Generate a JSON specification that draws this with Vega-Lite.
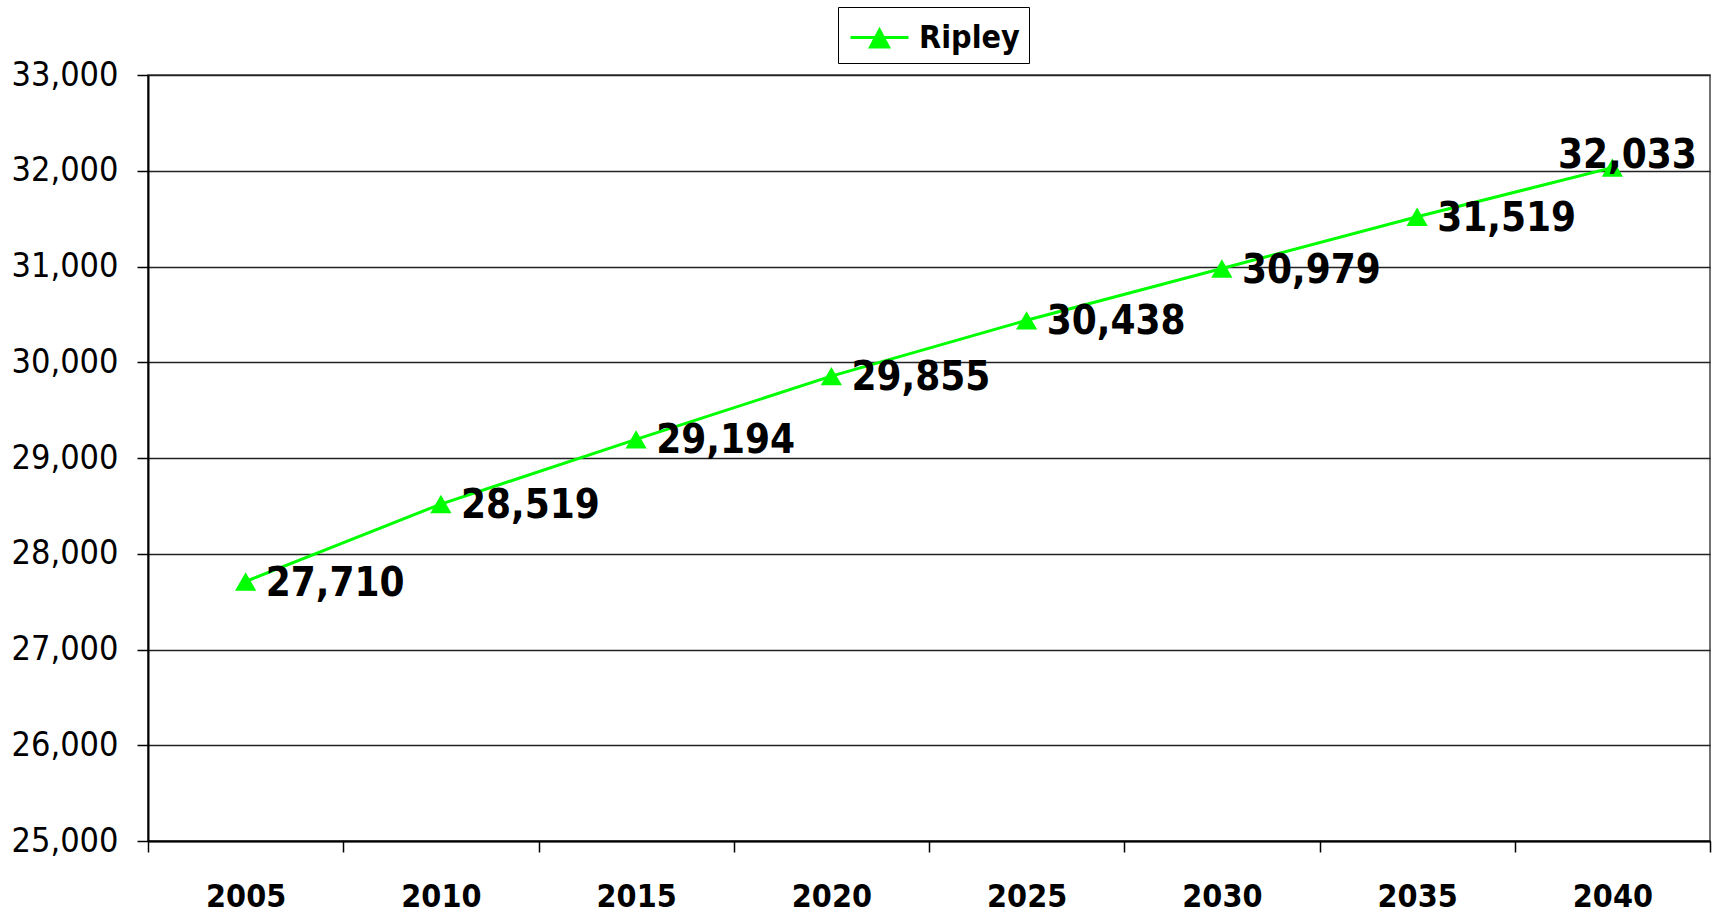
{
  "$schema": "https://vega.github.io/schema/vega-lite/v6.json",
  "width": 1562,
  "height": 766,
  "autosize": {"type": "none"},
  "padding": {"left": 148, "top": 75, "right": 7, "bottom": 73},
  "background": "white",
  "config": {
    "view": {"stroke": "#444", "strokeWidth": 1.5},
    "font": "DejaVu Sans Condensed, DejaVu Sans"
  },
  "data": {
    "values": [
      {"year": "2005", "population": 27710, "series": "Ripley"},
      {"year": "2010", "population": 28519, "series": "Ripley"},
      {"year": "2015", "population": 29194, "series": "Ripley"},
      {"year": "2020", "population": 29855, "series": "Ripley"},
      {"year": "2025", "population": 30438, "series": "Ripley"},
      {"year": "2030", "population": 30979, "series": "Ripley"},
      {"year": "2035", "population": 31519, "series": "Ripley"},
      {"year": "2040", "population": 32033, "series": "Ripley"}
    ]
  },
  "encoding": {
    "x": {
      "field": "year",
      "type": "ordinal",
      "scale": {"type": "band", "paddingInner": 0, "paddingOuter": 0},
      "axis": {
        "title": null,
        "labelAngle": 0,
        "tickBand": "extent",
        "labelFont": "DejaVu Sans Condensed, DejaVu Sans",
        "labelFontSize": 32,
        "labelFontWeight": "bold",
        "labelColor": "black",
        "tickSize": 11,
        "tickColor": "black",
        "tickWidth": 1.5,
        "labelPadding": 29,
        "domainColor": "black",
        "domainWidth": 2,
        "grid": false
      }
    },
    "y": {
      "field": "population",
      "type": "quantitative",
      "scale": {"domain": [25000, 33000], "nice": false, "zero": false},
      "axis": {
        "title": null,
        "values": [25000, 26000, 27000, 28000, 29000, 30000, 31000, 32000, 33000],
        "format": ",d",
        "labelFont": "DejaVu Sans Condensed, DejaVu Sans",
        "labelFontSize": 34,
        "labelColor": "black",
        "tickSize": 11,
        "tickColor": "black",
        "tickWidth": 1.5,
        "labelPadding": 19,
        "domainColor": "black",
        "domainWidth": 2,
        "grid": true,
        "gridColor": "#222",
        "gridWidth": 1.5
      }
    }
  },
  "layer": [
    {
      "mark": {
        "type": "line",
        "strokeWidth": 3,
        "point": {"shape": "triangle-up", "size": 450, "filled": true}
      },
      "encoding": {
        "color": {
          "field": "series",
          "type": "nominal",
          "scale": {"range": ["#00FF00"]},
          "legend": {
            "title": null,
            "orient": "none",
            "legendX": 690,
            "legendY": -68,
            "symbolType": "M-1.45,0H1.45M0,-0.375L0.45,0.475L-0.45,0.475Z",
            "symbolSize": 1600,
            "symbolStrokeWidth": 3,
            "symbolFillColor": "#00FF00",
            "symbolStrokeColor": "#00FF00",
            "symbolOffset": 11,
            "labelFont": "DejaVu Sans Condensed, DejaVu Sans",
            "labelFontSize": 32,
            "labelFontWeight": "bold",
            "labelColor": "black",
            "labelOffset": 18,
            "padding": 9,
            "strokeColor": "black",
            "fillColor": "white",
            "cornerRadius": 0,
            "encode": {
              "symbols": {
                "update": {
                  "fill": {"value": "#00FF00"},
                  "stroke": {"value": "#00FF00"},
                  "strokeWidth": {"value": 3},
                  "opacity": {"value": 1}
                }
              }
            }
          }
        }
      }
    },
    {
      "transform": [{"filter": "datum.year != '2040'"}],
      "mark": {
        "type": "text",
        "align": "left",
        "baseline": "middle",
        "dx": 20,
        "dy": 2,
        "font": "DejaVu Sans Condensed, DejaVu Sans",
        "fontSize": 40,
        "fontWeight": "bold",
        "color": "black"
      },
      "encoding": {"text": {"field": "population", "type": "quantitative", "format": ","}}
    },
    {
      "transform": [{"filter": "datum.year == '2040'"}],
      "mark": {
        "type": "text",
        "align": "center",
        "baseline": "alphabetic",
        "dx": 15,
        "dy": 0,
        "font": "DejaVu Sans Condensed, DejaVu Sans",
        "fontSize": 40,
        "fontWeight": "bold",
        "color": "black"
      },
      "encoding": {"text": {"field": "population", "type": "quantitative", "format": ","}}
    }
  ]
}
